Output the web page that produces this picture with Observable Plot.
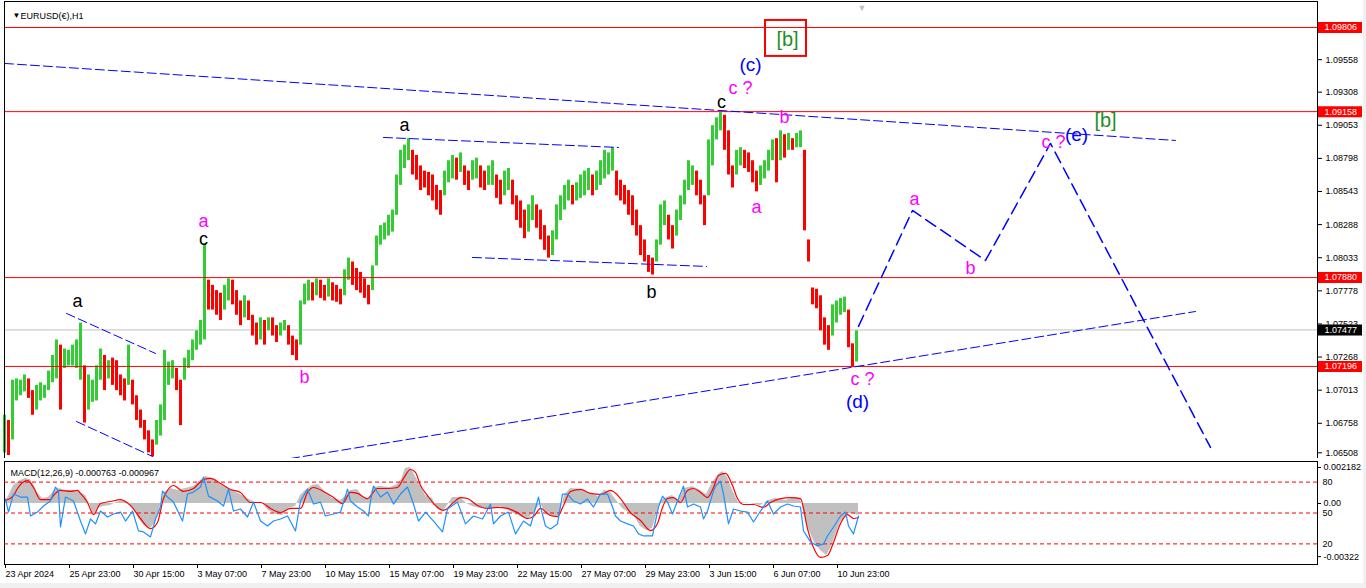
<!DOCTYPE html>
<html><head><meta charset="utf-8">
<script src="https://cdn.jsdelivr.net/npm/d3@7"></script>
<script src="https://cdn.jsdelivr.net/npm/@observablehq/plot@0.6"></script>
<style>
body{margin:0;background:#f0f0f0;}
#wrap{position:relative;width:1366px;height:588px;overflow:hidden;}
#wrap svg{position:absolute;left:0;}
</style></head><body><div id="wrap"></div>
<script>
// ---------- DATA ----------
const candleStep = 4; // bars per sample
const candleHi = [
1.0682,1.0678,1.0709,1.0710,1.0709,1.0713,1.0710,1.0701,1.0705,1.0707,
1.0705,1.0716,1.0728,1.0740,1.0736,1.0733,1.0732,1.0736,1.0740,1.0753,
1.0720,1.0713,1.0709,1.0720,1.0733,1.0728,1.0724,1.0726,1.0724,1.0713,
1.0710,1.0736,1.0709,1.0697,1.0686,1.0678,1.0670,1.0663,1.0678,1.0690,
1.0732,1.0723,1.0724,1.0718,1.0709,1.0726,1.0732,1.0740,1.0747,1.0755,
1.0814,1.0786,1.0782,1.0778,1.0776,1.0782,1.0787,1.0786,1.0778,1.0770,
1.0774,1.0770,1.0759,1.0753,1.0757,1.0755,1.0757,1.0757,1.0751,1.0753,
1.0755,1.0751,1.0743,1.0740,1.0770,1.0783,1.0786,1.0784,1.0787,1.0786,
1.0782,1.0787,1.0784,1.0782,1.0779,1.0794,1.0803,1.0800,1.0795,1.0792,
1.0787,1.0782,1.0797,1.0820,1.0828,1.0830,1.0836,1.0840,1.0867,1.0886,
1.0890,1.0895,1.0886,1.0882,1.0874,1.0870,1.0869,1.0867,1.0859,1.0855,
1.0870,1.0878,1.0882,1.0880,1.0884,1.0874,1.0870,1.0878,1.0880,1.0874,
1.0870,1.0874,1.0878,1.0867,1.0863,1.0870,1.0872,1.0863,1.0851,1.0847,
1.0840,1.0844,1.0851,1.0844,1.0840,1.0828,1.0820,1.0824,1.0844,1.0851,
1.0859,1.0863,1.0859,1.0861,1.0867,1.0870,1.0872,1.0867,1.0870,1.0878,
1.0886,1.0884,1.0888,1.0870,1.0863,1.0859,1.0855,1.0851,1.0840,1.0828,
1.0817,1.0805,1.0803,1.0817,1.0844,1.0847,1.0836,1.0828,1.0840,1.0851,
1.0863,1.0878,1.0874,1.0870,1.0863,1.0851,1.0894,1.0905,1.0911,1.0915,
1.0913,1.0901,1.0874,1.0886,1.0888,1.0886,1.0884,1.0878,1.0870,1.0874,
1.0878,1.0886,1.0894,1.0895,1.0901,1.0898,1.0899,1.0895,1.0899,1.0901,
1.0886,1.0817,1.0780,1.0779,1.0774,1.0757,1.0751,1.0767,1.0770,1.0772,
1.0773,1.0763,1.0737,1.0747];
const candleLo = [
1.0653,1.0651,1.0663,1.0693,1.0697,1.0700,1.0695,1.0682,1.0686,1.0693,
1.0695,1.0701,1.0707,1.0710,1.0686,1.0718,1.0720,1.0720,1.0718,1.0709,
1.0676,1.0686,1.0692,1.0693,1.0709,1.0701,1.0710,1.0705,1.0701,1.0697,
1.0693,1.0705,1.0690,1.0678,1.0672,1.0663,1.0653,1.0650,1.0659,1.0666,
1.0678,1.0705,1.0710,1.0701,1.0674,1.0709,1.0718,1.0724,1.0732,1.0736,
1.0740,1.0763,1.0763,1.0759,1.0755,1.0763,1.0770,1.0767,1.0759,1.0751,
1.0757,1.0755,1.0743,1.0736,1.0740,1.0736,1.0747,1.0743,1.0738,1.0743,
1.0747,1.0736,1.0728,1.0724,1.0736,1.0767,1.0770,1.0770,1.0774,1.0772,
1.0770,1.0773,1.0770,1.0769,1.0767,1.0774,1.0786,1.0782,1.0778,1.0776,
1.0772,1.0767,1.0778,1.0797,1.0813,1.0817,1.0820,1.0823,1.0836,1.0859,
1.0872,1.0878,1.0867,1.0863,1.0855,1.0857,1.0851,1.0847,1.0840,1.0836,
1.0851,1.0861,1.0864,1.0863,1.0869,1.0859,1.0855,1.0863,1.0864,1.0857,
1.0855,1.0859,1.0859,1.0849,1.0844,1.0851,1.0855,1.0844,1.0832,1.0826,
1.0818,1.0823,1.0832,1.0826,1.0817,1.0809,1.0803,1.0805,1.0817,1.0832,
1.0840,1.0847,1.0844,1.0847,1.0849,1.0851,1.0855,1.0851,1.0855,1.0859,
1.0864,1.0867,1.0870,1.0851,1.0847,1.0844,1.0836,1.0828,1.0820,1.0805,
1.0800,1.0792,1.0790,1.0800,1.0813,1.0828,1.0817,1.0810,1.0820,1.0832,
1.0844,1.0855,1.0859,1.0851,1.0844,1.0828,1.0851,1.0874,1.0894,1.0901,
1.0886,1.0867,1.0857,1.0867,1.0874,1.0872,1.0869,1.0861,1.0854,1.0859,
1.0864,1.0870,1.0878,1.0861,1.0878,1.0880,1.0886,1.0886,1.0888,1.0888,
1.0824,1.0800,1.0767,1.0764,1.0747,1.0736,1.0732,1.0743,1.0753,1.0759,
1.0761,1.0734,1.0719,1.0723];

const levels = [1.09806, 1.09158, 1.07880, 1.07196];
const currentPrice = 1.07477;
const yTicks = [1.09558,1.09308,1.09053,1.08798,1.08543,1.08288,1.08033,1.07778,1.07523,1.07268,1.07013,1.06758];
const yTickBottom = [1.06508];

const xTickBars = [0,64,128,192,256,320,384,448,512,576,640,704,768,832];
const xTickLabels = ["23 Apr 2024","25 Apr 23:00","30 Apr 15:00","3 May 07:00","7 May 23:00","10 May 15:00","15 May 07:00","19 May 23:00","22 May 15:00","27 May 07:00","29 May 23:00","3 Jun 15:00","6 Jun 07:00","10 Jun 23:00"];

// trendlines: [bar, price]
const topLine = [[0,1.09529],[1171,1.08936]];
const aLine = [[379,1.08959],[614,1.08882]];
const bLine = [[468,1.08035],[702,1.07966]];
const wedgeTop = [[62,1.07604],[151,1.07296]];
const wedgeBot = [[72,1.06772],[148,1.06503]];
const lowerLine = [[286,1.06487],[1191,1.07619]];
const projection = [[854,1.07504],[908,1.08397],[981,1.08012],[1046,1.08913],[1206,1.06572]];

// wave labels: [bar, price, text]
const blackLabels = [[73,1.07696,"a"],[199,1.08174,"c"],[400,1.09052,"a"],[647,1.07766,"b"],[717,1.09229,"c"]];
const magentaLabels = [[199,1.08312,"a"],[300,1.07111,"b"],[736,1.09336,"c ?"],[780,1.09113,"b"],[752,1.08420,"a"],[858,1.07096,"c ?"],[910,1.08482,"a"],[966,1.07950,"b"],[1049,1.08921,"c ?"]];
const blueLabels = [[746,1.09521,"(c)"],[853,1.06919,"(d)"],[1072,1.08975,"(e)"]];
const greenLabels = [[783,1.09714,"[b]"],[1101,1.09090,"[b]"]];
const boxedLabel = [{bar1:761, bar2:802, p1:1.09583, p2:1.09860}];

// MACD histogram (x1e-4): [bar, value]
const macdHist = [[1,1.8],[4,4.2],[9,10.9],[16,13.9],[21,15.2],[26,14.5],[29,11.5],[33,6.7],[38,3.0],[44,3.6],[50,7.9],[54,9.1],[61,7.9],[68,7.9],[76,6.7],[81,4.8],[85,0],[89,-7.3],[93,-3.0],[99,-1.8],[106,-1.2],[112,0.6],[118,1.8],[124,0.6],[129,-3.0],[134,-9.1],[140,-13.9],[146,-15.2],[151,-11.5],[156,-1.8],[160,6.7],[166,9.1],[174,7.9],[181,9.1],[189,10.3],[196,13.9],[201,16.4],[208,15.2],[214,12.1],[221,9.7],[228,7.9],[236,5.5],[243,3.0],[251,0.6],[258,0],[264,-4.2],[271,-6.7],[278,-7.3],[284,-3.0],[291,-1.8],[296,4.8],[301,7.9],[308,10.9],[314,11.5],[321,6.7],[328,3.0],[336,1.8],[341,4.2],[346,7.9],[353,8.5],[358,4.2],[364,2.4],[369,9.7],[376,10.3],[386,9.7],[393,11.5],[397,14.5],[401,21.2],[406,21.8],[410,17.6],[415,11.5],[421,4.8],[428,3.0],[433,-3.0],[438,-5.5],[443,-1.2],[448,3.6],[456,3.6],[462,0],[468,-1.8],[476,-3.0],[486,-3.0],[496,-1.8],[504,-4.2],[511,-6.7],[518,-8.5],[524,-9.1],[530,-5.5],[536,0],[542,-6.7],[549,-8.5],[555,-7.3],[560,4.8],[566,9.1],[576,8.5],[586,6.1],[594,4.2],[600,7.9],[606,6.7],[612,1.8],[618,-3.0],[624,-5.5],[630,-7.9],[636,-13.9],[642,-16.4],[648,-15.2],[652,-7.3],[656,1.8],[662,3.6],[668,4.8],[674,1.8],[680,9.1],[688,10.3],[696,7.9],[702,5.5],[708,12.7],[714,17.6],[718,19.4],[723,15.8],[728,7.9],[734,0.6],[746,0],[756,-1.2],[764,1.8],[771,3.0],[781,1.8],[791,3.6],[796,3.0],[800,-7.3],[804,-15.2],[810,-23.6],[816,-28.5],[822,-31.5],[826,-27.3],[831,-19.4],[836,-11.5],[842,-6.7],[848,-6.1],[854,-7.3]];
// MACD signal (x1e-4)
const macdSignal = [[1,1.8],[9,4.8],[13,9.1],[18,12.7],[23,13.9],[29,9.7],[36,2.4],[46,2.4],[49,4.8],[56,7.9],[66,7.3],[73,7.9],[76,6.1],[83,0.6],[89,-6.7],[96,0],[106,1.2],[116,2.4],[126,-1.2],[136,-9.1],[146,-15.2],[153,-11.5],[159,3.0],[169,10.9],[179,7.3],[189,9.1],[199,14.5],[206,15.2],[216,12.1],[226,8.5],[236,6.7],[246,0.6],[256,0.6],[266,-3.0],[276,-5.5],[286,-3.0],[296,-3.0],[303,6.7],[309,9.7],[319,7.3],[329,3.6],[338,0],[346,6.7],[353,6.1],[363,3.0],[373,9.1],[383,9.1],[393,9.7],[399,15.2],[406,20.6],[411,18.8],[416,10.9],[423,4.8],[429,0],[439,-4.2],[449,0.6],[456,3.6],[463,3.0],[473,-1.2],[483,-3.0],[493,-2.4],[503,-3.0],[513,-5.5],[523,-9.1],[529,-7.9],[536,-3.0],[546,-7.3],[553,-7.9],[559,-1.2],[566,7.3],[576,8.5],[586,6.1],[596,5.5],[606,7.9],[616,3.0],[626,-5.5],[636,-10.3],[646,-16.4],[653,-12.1],[658,-2.4],[663,3.0],[669,3.6],[676,0.6],[683,7.9],[689,9.1],[696,6.7],[703,3.6],[709,9.7],[714,17.0],[721,18.2],[728,10.9],[733,3.0],[739,-0.6],[749,-0.6],[759,-2.4],[766,0.6],[776,3.0],[786,3.6],[796,3.0],[803,-15.2],[809,-26.7],[816,-32.7],[823,-31.5],[829,-23.6],[836,-12.1],[843,-6.7],[849,-9.1],[854,-8.5]];
// oscillator (0-100)
const oscLine = [[1,63.5],[4,50.9],[9,68.4],[16,65.5],[23,65.5],[26,47.1],[33,50.9],[39,56.8],[46,61.6],[51,75.2],[54,71.3],[56,36.4],[61,65.5],[69,61.6],[76,42.2],[81,29.7],[86,44.2],[91,39.4],[96,51.9],[103,46.1],[109,49.0],[116,50.9],[121,42.2],[128,51.9],[134,32.6],[139,31.6],[146,26.8],[151,44.2],[156,55.8],[158,71.3],[163,65.5],[169,60.6],[178,42.2],[183,68.4],[189,70.3],[196,75.2],[199,84.8],[204,66.4],[213,61.6],[219,56.8],[224,73.2],[229,51.9],[236,53.9],[243,46.1],[249,60.6],[256,42.2],[263,37.4],[269,42.2],[276,44.2],[283,47.1],[291,32.6],[296,61.6],[303,73.2],[309,58.7],[316,60.6],[321,47.1],[329,49.0],[336,50.9],[343,73.2],[346,61.6],[353,55.8],[359,51.9],[364,47.1],[366,61.6],[369,76.1],[376,65.5],[383,70.3],[389,58.7],[396,68.4],[403,75.2],[409,58.7],[414,42.2],[421,50.9],[429,42.2],[438,31.6],[443,53.9],[453,60.6],[461,39.4],[469,47.1],[478,44.2],[486,58.7],[489,39.4],[496,47.1],[504,50.9],[511,29.7],[519,42.2],[526,37.4],[534,65.5],[536,55.8],[541,37.4],[546,34.5],[553,39.4],[558,68.4],[563,68.4],[569,61.6],[576,58.7],[583,63.5],[589,55.8],[596,68.4],[603,68.4],[608,55.8],[611,47.1],[616,42.2],[623,39.4],[629,37.4],[634,29.7],[639,27.7],[648,27.7],[650,37.4],[654,55.8],[658,66.4],[663,60.6],[668,49.0],[673,61.6],[679,76.1],[683,55.8],[689,58.7],[696,55.8],[699,44.2],[703,51.9],[708,68.4],[711,76.1],[716,81.0],[719,68.4],[724,39.4],[729,53.9],[736,51.9],[743,50.9],[749,41.3],[756,51.9],[763,61.6],[769,49.0],[776,55.8],[783,58.7],[789,56.8],[796,55.8],[799,32.6],[806,21.9],[813,18.1],[819,20.0],[823,27.7],[829,36.4],[836,47.1],[841,50.9],[844,37.4],[849,29.7],[854,47.1]];
const oscLevels = [80, 50, 20];
const macdTicks = [0.002182, 0, -0.00322];
const macdTickText = ["0.002182", "0.00", "-0.00322"];
const macdTitle = "MACD(12,26,9) -0.000763 -0.000967";
const chartTitle = "EURUSD(€),H1";

// ---------- SCALE SETTINGS ----------
const FONT = "'Liberation Sans', Arial, sans-serif";
const W = 1363;
const barDomain = [0, 1313];
const priceDomain = [1.06487, 1.10006];
const macdDomain = [-0.003697, 0.002545];
const labelBox = [1314, 1358, 1320]; // bar extent of right price tags

const candles = candleHi.map((hi, i) => ({bar: i * candleStep, hi, lo: candleLo[i]}));
candles.forEach((d, i) => { d.up = i === 0 ? true : (d.hi + d.lo) >= (candles[i-1].hi + candles[i-1].lo); });
const fmt5 = d3.format(".5f");
const tags = [...levels.map(v => ({v, c: "#ff0000"})), {v: currentPrice, c: "#000000"}];
const X = d => d[0], Y = d => d[1], T = d => d[2];
const xLabelMap = new Map(xTickBars.map((b, i) => [b, xTickLabels[i]]));
const macdLabelMap = new Map(macdTicks.map((b, i) => [b, macdTickText[i]]));
const dash = {stroke: "#0000ff", strokeWidth: 1, strokeDasharray: "9,4"};

const main = Plot.plot({
  width: W, height: 459,
  marginTop: 1, marginBottom: 1, marginLeft: 4, marginRight: 46,
  style: {fontFamily: FONT, fontSize: "9px", background: "#ffffff", color: "#000"},
  x: {domain: barDomain, axis: null},
  y: {domain: priceDomain, axis: null},
  marks: [
    Plot.ruleY([currentPrice], {stroke: "#c0c0c0"}),
    Plot.ruleX(candles, {x: "bar", y1: "lo", y2: "hi", stroke: d => d.up ? "#32cd32" : "#ff0000", strokeWidth: 3}),
    Plot.ruleY(levels, {stroke: "#ff0000"}),
    ...[topLine, aLine, bLine, wedgeTop, wedgeBot, lowerLine].map(l => Plot.line(l, {x: X, y: Y, ...dash})),
    Plot.line(projection, {x: X, y: Y, stroke: "#0000ff", strokeDasharray: "12,6"}),
    Plot.text(blackLabels, {x: X, y: Y, text: T, fill: "#000", fontSize: 18, fontFamily: FONT}),
    Plot.text(magentaLabels, {x: X, y: Y, text: T, fill: "#ff00ff", fontSize: 18, fontFamily: FONT}),
    Plot.text(blueLabels, {x: X, y: Y, text: T, fill: "#0000ff", fontSize: 19, fontFamily: FONT}),
    Plot.text(greenLabels, {x: X, y: Y, text: T, fill: "#1f8f1f", fontSize: 20, fontFamily: FONT}),
    Plot.rect(boxedLabel, {x1: "bar1", x2: "bar2", y1: "p1", y2: "p2", fill: "none", stroke: "#ff0000", strokeWidth: 2}),
    Plot.frame({stroke: "#000"}),
    Plot.axisY({anchor: "right", ticks: yTicks, tickFormat: fmt5, tickSize: 4, tickPadding: 4, label: null}),
    Plot.axisY({anchor: "right", ticks: yTickBottom, tickFormat: fmt5, tickSize: 4, tickPadding: 4, dy: -3, label: null}),
    Plot.ruleY(tags, {y: "v", x1: () => labelBox[0], x2: () => labelBox[1], stroke: "c", strokeWidth: 11}),
    Plot.text(tags, {y: "v", x: () => labelBox[2], text: d => fmt5(d.v), fill: "#ffffff", textAnchor: "start"}),
    Plot.text(["▼"], {frameAnchor: "top-left", dx: 8, dy: 11, fontSize: 8, fill: "#000"}),
    Plot.text([chartTitle], {frameAnchor: "top-left", dx: 16, dy: 11, textAnchor: "start", fill: "#000"}),
    Plot.text(["▼"], {frameAnchor: "top-left", dx: 853, dy: 3, fontSize: 9, fill: "#c0c0c0"})
  ]
});
main.style.top = "0px";

const common = {width: W, height: 125, marginTop: 3, marginBottom: 19, marginLeft: 4, marginRight: 46,
  x: {domain: barDomain, axis: null}};

const macd = Plot.plot({
  ...common,
  style: {fontFamily: FONT, fontSize: "9px", background: "#ffffff", color: "#000"},
  y: {domain: macdDomain, axis: null},
  marks: [
    Plot.areaY(macdHist, {x: X, y: d => d[1] * 1e-4, fill: "#c0c0c0"}),
    Plot.line(macdSignal, {x: X, y: d => d[1] * 1e-4, stroke: "#ff0000", strokeWidth: 1.2, curve: "monotone-x"}),
    Plot.frame({stroke: "#000"}),
    Plot.axisY({anchor: "right", ticks: macdTicks, tickFormat: d => macdLabelMap.get(d), tickSize: 3, tickPadding: 3, label: null}),
    Plot.axisX({anchor: "bottom", ticks: xTickBars, tickFormat: d => xLabelMap.get(d), tickSize: 4, tickPadding: 2, textAnchor: "start", dx: 1, label: null}),
    Plot.text([macdTitle], {frameAnchor: "top-left", dx: 6, dy: 8, textAnchor: "start", fill: "#000"})
  ]
});
macd.style.top = "458px";

const osc = Plot.plot({
  ...common,
  style: {fontFamily: FONT, fontSize: "9px", background: "transparent", color: "#000"},
  y: {domain: [0, 100], axis: null},
  marks: [
    Plot.ruleY(oscLevels, {stroke: "#ff0000", strokeDasharray: "4,3"}),
    Plot.line(oscLine, {x: X, y: Y, stroke: "#1e90ff", strokeWidth: 1.2}),
    Plot.axisY({anchor: "right", ticks: oscLevels, tickSize: 0, tickPadding: 5, label: null})
  ]
});
osc.style.top = "458px";

const wrap = document.getElementById("wrap");
wrap.append(main, macd, osc);
</script></body></html>
